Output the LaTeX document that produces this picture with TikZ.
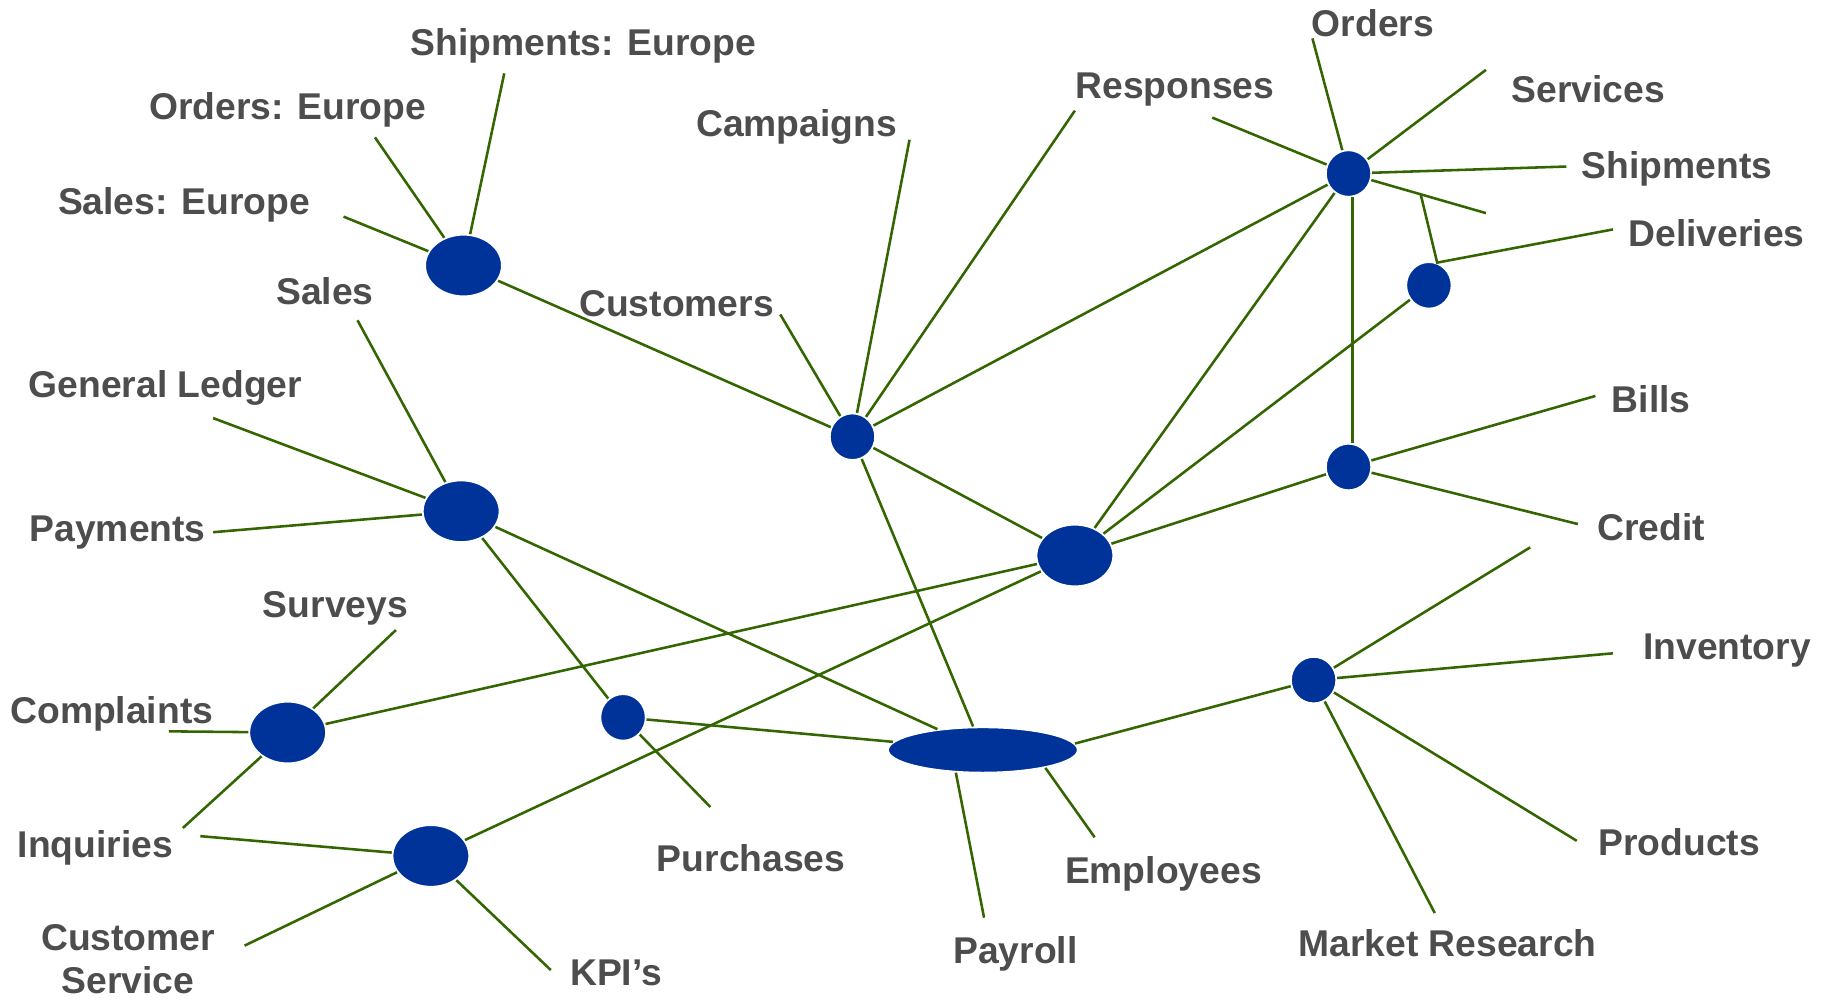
\documentclass[tikz,border=0pt]{standalone}
\usepackage{fontspec}
\setmainfont{Liberation Sans}
\usetikzlibrary{shapes.geometric,calc}
\definecolor{hubblue}{RGB}{0,51,153}
\definecolor{linkgreen}{RGB}{51,102,0}
\definecolor{labelgray}{RGB}{77,77,77}
\begin{document}
\begin{tikzpicture}[x=0.5pt,y=-0.5pt,
  hub/.style={ellipse, fill=hubblue, draw=white, line width=0.8pt, inner sep=0pt},
  big/.style={hub, minimum width=33pt, minimum height=26.5pt},
  small/.style={hub, minimum width=19.5pt, minimum height=20pt},
  lbl/.style={font=\bfseries\fontsize{16}{18.5}\selectfont, text=labelgray, inner sep=0pt, yshift=-1pt},
  link/.style={draw=linkgreen, line width=1.1pt}]
\useasboundingbox (0,0) rectangle (1568,858);

% hubs
\node[big] (eu) at (398,228) {};
\node[small] (cust) at (732,375) {};
\node[small] (hub) at (1158,149) {};
\node[small] (deliv) at (1227,245) {};
\node[small] (bills) at (1158,401) {};
\node[big] (center) at (923,477) {};
\node[big] (gl) at (396,439) {};
\node[big] (compl) at (247,629) {};
\node[small] (purch) at (535,616) {};
\node[hub, minimum width=81.5pt, minimum height=19.5pt] (payroll) at (844,644) {};
\node[small] (inv) at (1128,584) {};
\node[big] (kpi) at (370,735) {};

% free ends
\coordinate (sEu) at (295,186);
\coordinate (oEu) at (322,118);
\coordinate (shEu) at (433,63);
\coordinate (custE) at (670,270);
\coordinate (campE) at (781,120);
\coordinate (respE) at (923,95);
\coordinate (respS) at (1041,101);
\coordinate (ordE) at (1127,33);
\coordinate (servE) at (1276,60);
\coordinate (shipE) at (1345,143);
\coordinate (dstub) at (1276,183);
\coordinate (br) at ($(hub.center)!0.525!(dstub)$);
\coordinate (delE) at (1385,197);
\coordinate (billE) at (1370,340);
\coordinate (credE) at (1355,450);
\coordinate (glE) at (183,359);
\coordinate (salesE) at (307,275);
\coordinate (payE) at (183,457);
\coordinate (survE) at (340,541);
\coordinate (complE) at (145,628);
\coordinate (inqE) at (157,711);
\coordinate (purchE) at (610,693);
\coordinate (inq2E) at (172,718);
\coordinate (csE) at (210,812);
\coordinate (kpiE) at (473,833);
\coordinate (payrE) at (845,788);
\coordinate (empE) at (940,719);
\coordinate (invStub) at (1314,470);
\coordinate (invE) at (1385,561);
\coordinate (prodE) at (1354,722);
\coordinate (mrE) at (1232,784);

% connectors
\draw[link] (eu) -- (sEu);
\draw[link] (eu) -- (oEu);
\draw[link] (eu) -- (shEu);
\draw[link] (eu) -- (cust);
\draw[link] (cust) -- (custE);
\draw[link] (cust) -- (campE);
\draw[link] (cust) -- (respE);
\draw[link] (cust) -- (hub);
\draw[link] (cust) -- (center);
\draw[link] (cust) -- (payroll);
\draw[link] (hub) -- (respS);
\draw[link] (hub) -- (ordE);
\draw[link] (hub) -- (servE);
\draw[link] (hub) -- (shipE);
\draw[link] (hub) -- (dstub);
\draw[link] (br) -- (deliv.70) -- (delE);
\draw[link] (hub) -- (center);
\draw[link] (hub.-80) -- (bills.80);
\draw[link] (deliv) -- (center);
\draw[link] (bills) -- (billE);
\draw[link] (bills) -- (credE);
\draw[link] (bills) -- (center);
\draw[link] (center) -- (compl);
\draw[link] (center) -- (kpi);
\draw[link] (gl) -- (glE);
\draw[link] (gl) -- (salesE);
\draw[link] (gl) -- (payE);
\draw[link] (gl) -- (payroll);
\draw[link] (gl) -- (purch);
\draw[link] (compl) -- (survE);
\draw[link] (compl) -- (complE);
\draw[link] (compl) -- (inqE);
\draw[link] (purch) -- (purchE);
\draw[link] (purch) -- (payroll);
\draw[link] (kpi) -- (inq2E);
\draw[link] (kpi) -- (csE);
\draw[link] (kpi) -- (kpiE);
\draw[link] (payroll.-140) -- (payrE);
\draw[link] (payroll.-16) -- (empE);
\draw[link] (payroll.4) -- (inv);
\draw[link] (inv) -- (invStub);
\draw[link] (inv) -- (invE);
\draw[link] (inv) -- (prodE);
\draw[link] (inv) -- (mrE);

% labels
\node[lbl] (tShEu) at (501,37) {Shipments: Europe};
\node[lbl] (tOEu) at (247,92) {Orders: Europe};
\node[lbl] (tSEu) at (158,174) {Sales: Europe};
\node[lbl] (tSales) at (279,248) {Sales};
\node[lbl] (tGL) at (142,331) {General Ledger};
\node[lbl] (tPay) at (101,455) {Payments};
\node[lbl] (tCust) at (581,259) {Customers};
\node[lbl] (tCamp) at (684,107) {Campaigns};
\node[lbl] (tResp) at (1009,75) {Responses};
\node[lbl] (tOrd) at (1179,18) {Orders};
\node[lbl] (tServ) at (1364,75) {Services};
\node[lbl] (tShip) at (1440,143) {Shipments};
\node[lbl] (tDel) at (1474,198) {Deliveries};
\node[lbl] (tBills) at (1418,341) {Bills};
\node[lbl] (tCred) at (1418,451) {Credit};
\node[lbl] (tInv) at (1483,557) {Inventory};
\node[lbl] (tProd) at (1442,721) {Products};
\node[lbl] (tMR) at (1243,808) {Market Research};
\node[lbl] (tEmp) at (999,748) {Employees};
\node[lbl] (tPayr) at (872,817) {Payroll};
\node[lbl] (tPurch) at (645,735) {Purchases};
\node[lbl] (tKPI) at (529,833) {KPI’s};
\node[lbl, align=center, yshift=1pt] (tCS) at (110,824) {Customer\\Service};
\node[lbl] (tInq) at (82,726) {Inquiries};
\node[lbl] (tCompl) at (96,611) {Complaints};
\node[lbl] (tSurv) at (288,520) {Surveys};
\end{tikzpicture}
\end{document}
